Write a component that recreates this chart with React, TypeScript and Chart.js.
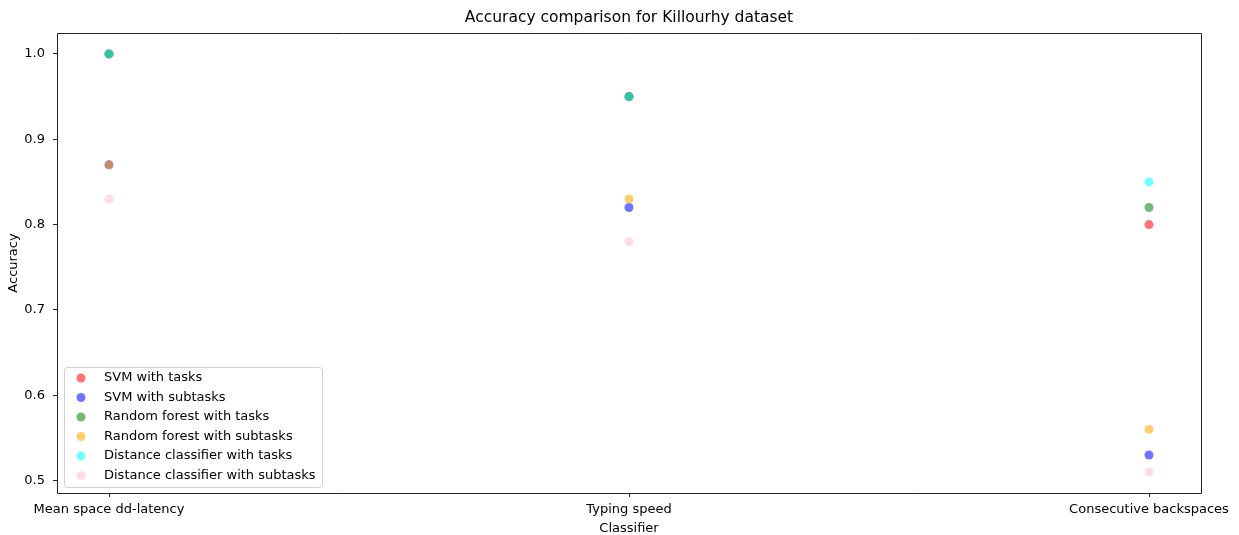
import React, { useEffect, useRef } from "react";
import { Chart, registerables } from "chart.js";

Chart.register(...registerables);

const chartTitle = "Accuracy comparison for Killourhy dataset";
const xTitle = "Classifier";
const yTitle = "Accuracy";
const categories = ["Mean space dd-latency", "Typing speed", "Consecutive backspaces"];
const yTicks = [0.5, 0.6, 0.7, 0.8, 0.9, 1.0];

const seriesNames = [
  "SVM with tasks",
  "SVM with subtasks",
  "Random forest with tasks",
  "Random forest with subtasks",
  "Distance classifier with tasks",
  "Distance classifier with subtasks",
];
const svmTasks = [1.0, 0.95, 0.8];
const svmSubtasks = [0.87, 0.82, 0.53];
const rfTasks = [1.0, 0.95, 0.82];
const rfSubtasks = [0.87, 0.83, 0.56];
const dcTasks = [1.0, 0.95, 0.85];
const dcSubtasks = [0.83, 0.78, 0.51];
const seriesValues = [svmTasks, svmSubtasks, rfTasks, rfSubtasks, dcTasks, dcSubtasks];
const seriesColors = [
  "rgba(255,0,0,0.55)",
  "rgba(0,0,255,0.55)",
  "rgba(0,128,0,0.55)",
  "rgba(255,165,0,0.55)",
  "rgba(0,255,255,0.55)",
  "rgba(255,192,203,0.55)",
];

const FONT = "DejaVu Sans";
const POINT_R = 4.5;

const framePlugin = {
  id: "frame",
  afterDraw(chart: any) {
    const ctx = chart.ctx;
    const a = chart.chartArea;
    ctx.save();
    // spines
    ctx.strokeStyle = "#222";
    ctx.lineWidth = 1;
    ctx.beginPath();
    ctx.rect(Math.round(a.left) + 0.5, Math.round(a.top) + 0.5, Math.round(a.right - a.left), Math.round(a.bottom - a.top));
    ctx.stroke();
    // title
    ctx.fillStyle = "#000";
    ctx.font = `15.5px "${FONT}"`;
    ctx.textAlign = "center";
    ctx.textBaseline = "middle";
    ctx.fillText(chartTitle, (a.left + a.right) / 2, 18);
    // legend
    const ds = chart.data.datasets;
    ctx.font = `13px "${FONT}"`;
    let maxW = 0;
    ds.forEach((d: any) => {
      maxW = Math.max(maxW, ctx.measureText(d.label).width);
    });
    const rowH = 19.5;
    const boxL = a.left + 7;
    const boxW = 40 + maxW + 6;
    const boxH = rowH * ds.length + 3;
    const boxB = a.bottom - 6;
    const boxT = boxB - boxH;
    ctx.fillStyle = "rgba(255,255,255,0.8)";
    ctx.strokeStyle = "#d0d0d0";
    ctx.lineWidth = 1;
    ctx.beginPath();
    const r = 3;
    const x0 = Math.round(boxL) + 0.5, y0 = Math.round(boxT) + 0.5, w = Math.round(boxW), h = Math.round(boxH);
    ctx.moveTo(x0 + r, y0);
    ctx.lineTo(x0 + w - r, y0);
    ctx.arcTo(x0 + w, y0, x0 + w, y0 + r, r);
    ctx.lineTo(x0 + w, y0 + h - r);
    ctx.arcTo(x0 + w, y0 + h, x0 + w - r, y0 + h, r);
    ctx.lineTo(x0 + r, y0 + h);
    ctx.arcTo(x0, y0 + h, x0, y0 + h - r, r);
    ctx.lineTo(x0, y0 + r);
    ctx.arcTo(x0, y0, x0 + r, y0, r);
    ctx.closePath();
    ctx.fill();
    ctx.stroke();
    ds.forEach((d: any, i: number) => {
      const cy = boxT + 11 + i * rowH;
      ctx.fillStyle = d.backgroundColor;
      ctx.beginPath();
      ctx.arc(boxL + 17, cy, POINT_R, 0, Math.PI * 2);
      ctx.fill();
      ctx.fillStyle = "#000";
      ctx.textAlign = "left";
      ctx.textBaseline = "middle";
      ctx.fillText(d.label, boxL + 40, cy);
    });
    ctx.restore();
  },
};

export default function App() {
  const ref = useRef<HTMLCanvasElement | null>(null);
  useEffect(() => {
    document.body.style.margin = "0";
    const canvas = ref.current;
    if (!canvas) return;
    const datasets = seriesNames.map((name, i) => ({
      label: name,
      data: seriesValues[i].map((v, j) => ({ x: j, y: v })),
      backgroundColor: seriesColors[i],
      borderColor: seriesColors[i],
      pointRadius: POINT_R,
      pointBorderWidth: 0,
      pointHoverRadius: POINT_R,
      showLine: false,
      order: seriesNames.length - i,
    }));
    const chart = new Chart(canvas, {
      type: "scatter",
      data: { datasets },
      plugins: [framePlugin],
      options: {
        responsive: false,
        animation: false,
        layout: { padding: { top: 33, right: 38, left: 0, bottom: 0 } },
        plugins: {
          legend: { display: false },
          title: { display: false },
          tooltip: { enabled: false },
        },
        scales: {
          x: {
            type: "linear",
            min: -0.1,
            max: 2.1,
            afterBuildTicks: (s: any) => {
              s.ticks = categories.map((_, i) => ({ value: i }));
            },
            afterFit: (s: any) => {
              s.height = 42;
            },
            ticks: {
              callback: (v: any) => categories[Math.round(Number(v))] ?? "",
              color: "#000",
              font: { family: FONT, size: 13 },
              padding: 5,
              maxRotation: 0,
              autoSkip: false,
            },
            grid: { display: true, drawOnChartArea: false, drawTicks: true, tickLength: 4, color: "#222" },
            border: { display: false },
            title: {
              display: true,
              text: xTitle,
              color: "#000",
              font: { family: FONT, size: 13 },
              padding: { top: 0, bottom: -1 },
            },
          },
          y: {
            type: "linear",
            min: 0.4855,
            max: 1.0245,
            afterBuildTicks: (s: any) => {
              s.ticks = yTicks.map((v) => ({ value: v }));
            },
            afterFit: (s: any) => {
              s.width = 57;
            },
            ticks: {
              callback: (v: any) => Number(v).toFixed(1),
              color: "#000",
              font: { family: FONT, size: 13 },
              padding: 8,
            },
            grid: { display: true, drawOnChartArea: false, drawTicks: true, tickLength: 4, color: "#222" },
            border: { display: false },
            title: {
              display: true,
              text: yTitle,
              color: "#000",
              font: { family: FONT, size: 13 },
              padding: { top: 6, bottom: 0 },
            },
          },
        },
      },
    });
    return () => chart.destroy();
  }, []);
  return (
    <div style={{ position: "absolute", left: 0, top: 0, width: 1239, height: 535, background: "#fff" }}>
      <canvas ref={ref} width={1239} height={535} style={{ display: "block" }} />
    </div>
  );
}
